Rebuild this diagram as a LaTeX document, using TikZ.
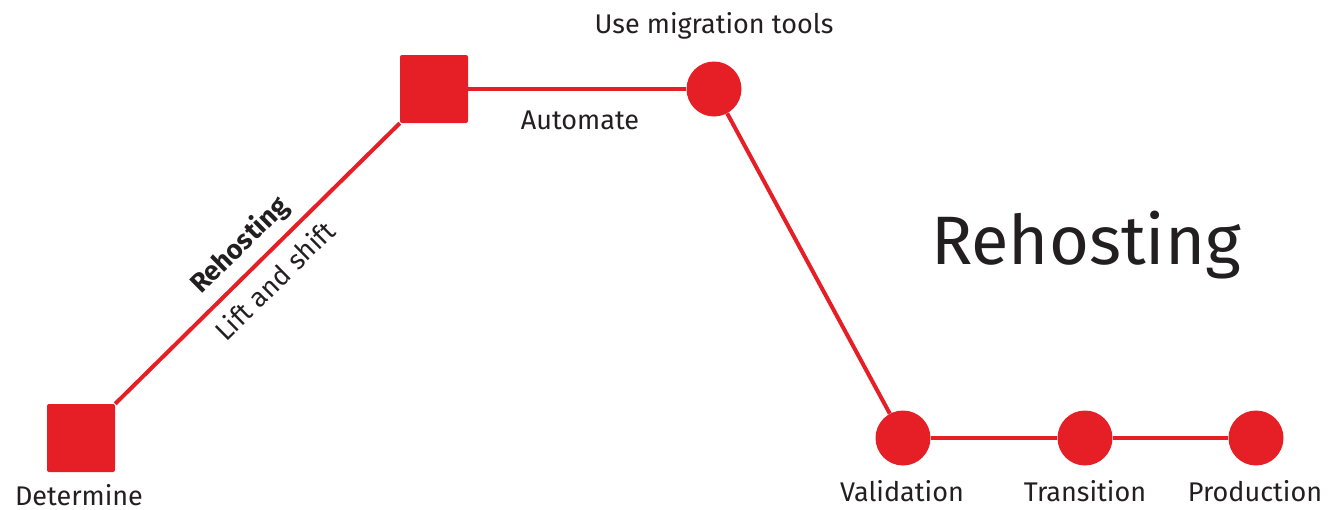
\documentclass[tikz,border=0pt]{standalone}
\usepackage{fontspec}
\setmainfont{Fira Sans}
\definecolor{mred}{HTML}{E61F26}
\definecolor{ink}{HTML}{231F20}
\begin{document}
\begin{tikzpicture}[x=1pt,y=-1pt,
  stepsq/.style={draw=none, fill=mred, rectangle, rounded corners=2pt, minimum size=68pt, inner sep=0pt},
  stepdot/.style={draw=none, fill=mred, circle, minimum size=55pt, inner sep=0pt},
  link/.style={draw=mred, line width=4pt},
  lbl/.style={text=ink, font=\fontsize{27}{32}\selectfont, inner sep=0pt, anchor=base},
  title/.style={text=ink, font=\fontsize{68.5}{80}\selectfont, inner sep=0pt, anchor=base}]
\useasboundingbox (0,0) rectangle (1342,509);

% milestones
\node[stepsq]  (det) at (81,438) {};
\node[stepsq]  (lift) at (434,89) {};
\node[stepdot] (mig) at (714,89) {};
\node[stepdot] (val) at (903,438) {};
\node[stepdot] (tra) at (1085,438) {};
\node[stepdot] (pro) at (1256,438) {};

% connecting path
\draw[link] (det.north east) -- (lift.south west);
\draw[link] (lift.east) -- (mig);
\draw[link] (mig) -- (val);
\draw[link] (val) -- (tra);
\draw[link] (tra) -- (pro);

% slanted labels on the first leg
\path (det.north east) -- node[sloped, pos=0.5, yshift=25pt, text=ink, inner sep=0pt, font=\fontsize{27}{32}\selectfont\bfseries] (rl) {Rehosting}
      node[sloped, pos=0.5, yshift=-24pt, text=ink, inner sep=0pt, font=\fontsize{27}{32}\selectfont] (ls) {Lift and shift} (lift.south west);

% step labels
\node[lbl] (tdet) at (79,505) {Determine};
\node[lbl] (taut) at (580,129) {Automate};
\node[lbl] (tmig) at (714,33) {Use migration tools};
\node[lbl] (tval) at (902,501) {Validation};
\node[lbl] (ttra) at (1085,501) {Transition};
\node[lbl] (tpro) at (1255,501) {Production};

% heading
\node[title] (head) at (1086,264) {Rehosting};
\end{tikzpicture}
\end{document}
